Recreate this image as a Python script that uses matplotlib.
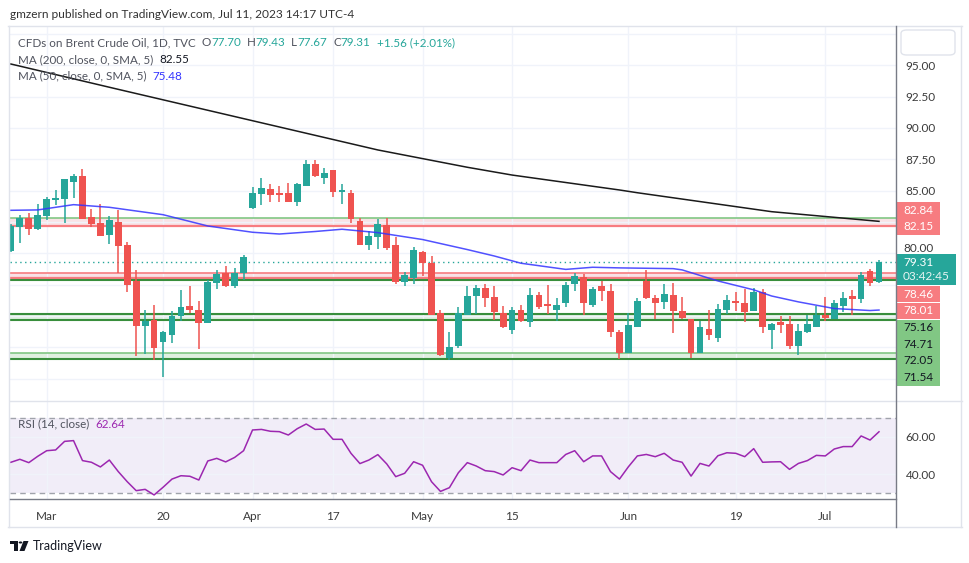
import numpy as np
import pandas as pd
import matplotlib
matplotlib.use('Agg')
import matplotlib.pyplot as plt
from matplotlib.patches import Rectangle, FancyBboxPatch, Circle, Polygon
from matplotlib.lines import Line2D

plt.rcParams['font.family'] = ['Lato', 'DejaVu Sans']

# dias de pregao no grafico (sexta-feira santa 7/abr sem barra)
dias = pd.bdate_range('2023-02-23', '2023-07-11')
dias = dias[dias != pd.Timestamp('2023-04-07')]

abertura = [80.22, 82.10, 82.79, 81.97, 83.00, 84.28, 84.33, 85.68, 86.16, 82.90,
            82.42, 81.47, 82.50, 80.67, 77.80, 74.24, 74.70, 72.97, 73.50, 75.02,
            75.81, 75.49, 74.48, 77.67, 78.41, 77.40, 78.41, 83.62, 84.73, 85.13,
            84.81, 84.81, 84.09, 85.37, 87.12, 86.00, 86.64, 84.89, 84.81, 82.58,
            80.67, 81.31, 82.26, 80.67, 77.72, 78.04, 80.11, 79.23, 75.26, 71.62,
            72.58, 75.10, 76.61, 77.25, 76.53, 75.26, 73.90, 75.49, 74.54, 76.69,
            75.97, 75.49, 76.05, 77.56, 78.12, 75.89, 77.40, 77.01, 73.74, 72.07,
            74.14, 77.80, 76.45, 76.13, 76.69, 75.42, 74.78, 72.02, 73.98, 73.26,
            75.49, 76.21, 76.05, 75.42, 76.93, 73.90, 74.54, 74.38, 72.63, 73.74,
            74.14, 75.10, 74.78, 75.81, 76.61, 76.37, 78.60, 77.70]
maxima = [82.35, 83.06, 83.22, 83.93, 84.52, 85.05, 85.95, 86.32, 86.72, 83.53,
          83.93, 82.98, 83.46, 80.91, 78.68, 75.49, 75.89, 73.82, 75.42, 77.08,
          77.40, 76.21, 77.88, 78.68, 78.99, 78.84, 79.87, 85.26, 86.00, 85.53,
          85.37, 85.61, 85.61, 87.44, 87.44, 86.80, 86.64, 85.53, 85.05, 82.82,
          81.78, 82.74, 82.82, 81.31, 78.52, 80.51, 80.19, 79.79, 75.49, 73.74,
          75.73, 77.40, 77.48, 77.56, 77.40, 75.81, 75.73, 75.89, 77.25, 76.93,
          77.48, 76.45, 77.72, 78.44, 78.36, 77.32, 77.80, 77.56, 73.90, 75.23,
          76.45, 78.68, 76.69, 77.56, 77.64, 76.53, 74.78, 74.62, 75.49, 75.97,
          76.69, 76.93, 77.17, 77.25, 77.17, 74.46, 75.02, 75.02, 74.38, 75.10,
          75.81, 76.53, 76.29, 76.93, 77.09, 78.52, 78.76, 79.43]
minima = [80.10, 80.86, 81.49, 81.86, 82.66, 83.85, 82.45, 84.44, 82.70, 82.13,
          81.35, 80.75, 78.41, 76.95, 71.78, 71.94, 71.46, 70.18, 72.89, 74.64,
          75.23, 72.39, 74.48, 77.19, 77.35, 77.27, 77.88, 83.54, 83.85, 84.09,
          84.09, 84.09, 83.77, 85.37, 86.08, 85.53, 84.49, 83.93, 82.45, 80.67,
          80.27, 80.35, 80.27, 77.56, 77.40, 77.56, 78.20, 75.10, 71.78, 71.51,
          72.49, 75.10, 75.20, 75.73, 74.72, 74.06, 73.58, 74.54, 74.14, 75.57,
          75.20, 74.62, 75.73, 77.01, 75.10, 75.73, 76.21, 73.34, 71.59, 72.07,
          74.14, 76.37, 74.78, 75.57, 73.66, 74.78, 71.67, 72.02, 73.11, 72.95,
          75.18, 75.42, 74.54, 75.42, 73.66, 72.39, 73.66, 72.39, 71.91, 73.66,
          74.14, 74.62, 74.78, 75.34, 75.10, 76.05, 77.40, 77.67]
fechamento = [82.18, 82.79, 81.97, 83.06, 84.33, 84.41, 85.92, 86.16, 82.74, 82.34,
              81.38, 82.66, 80.59, 77.49, 74.24, 74.62, 72.49, 73.74, 75.02, 75.73,
              75.49, 74.48, 77.72, 78.36, 77.40, 78.41, 79.71, 84.81, 85.21, 84.65,
              84.65, 84.09, 85.53, 87.12, 86.16, 86.40, 84.89, 85.05, 82.74, 80.67,
              81.38, 82.34, 80.43, 77.72, 78.28, 80.27, 79.23, 75.10, 71.86, 72.55,
              75.26, 76.61, 77.25, 76.45, 75.34, 74.14, 75.49, 74.62, 76.69, 75.73,
              75.81, 75.89, 77.48, 78.20, 76.05, 77.17, 77.01, 73.74, 72.07, 74.30,
              76.21, 76.45, 76.05, 76.77, 75.42, 74.86, 72.02, 74.14, 73.50, 75.57,
              76.29, 76.05, 75.34, 76.93, 74.14, 74.38, 74.30, 72.63, 73.82, 74.38,
              75.10, 74.86, 76.05, 76.45, 76.37, 78.28, 77.64, 79.31]

# medias moveis (data, valor)
ma200_datas = ['2023-02-23', '2023-03-13', '2023-04-03', '2023-04-24', '2023-05-08',
               '2023-05-15', '2023-05-31', '2023-06-02', '2023-06-23', '2023-07-11']
ma200_vals = [95.09, 93.07, 90.57, 88.24, 86.86, 86.24, 85.05, 84.83, 83.32, 82.55]
ma50_datas = ['2023-02-23', '2023-02-28', '2023-03-06', '2023-03-10', '2023-03-20',
              '2023-03-27', '2023-04-03', '2023-04-06', '2023-04-13', '2023-04-18',
              '2023-04-24', '2023-05-01', '2023-05-08', '2023-05-11', '2023-05-16',
              '2023-05-23', '2023-05-26', '2023-05-31', '2023-06-08', '2023-06-09',
              '2023-06-15', '2023-06-21', '2023-06-23', '2023-06-28', '2023-07-04',
              '2023-07-10', '2023-07-11']
ma50_vals = [83.43, 83.46, 83.88, 83.67, 83.08, 82.18, 81.68, 81.54, 81.74, 81.92,
             81.65, 81.10, 80.30, 79.79, 79.21, 78.72, 78.89, 78.84, 78.78, 78.68,
             77.80, 77.09, 76.60, 76.13, 75.60, 75.44, 75.48]

rsi = [46.3, 47.9, 46.1, 49.5, 52.5, 52.9, 57.5, 57.9, 47.2, 46.3,
       43.8, 47.5, 41.3, 35.9, 31.1, 31.8, 28.8, 32.9, 37.3, 39.1,
       38.8, 36.8, 47.0, 48.4, 46.5, 48.9, 52.5, 63.6, 63.9, 62.9,
       62.7, 60.9, 64.3, 66.8, 63.9, 64.1, 58.6, 58.6, 51.1, 45.6,
       47.5, 50.4, 45.4, 38.6, 40.4, 46.6, 44.7, 35.9, 30.7, 32.7,
       40.7, 46.1, 44.3, 41.8, 41.3, 39.5, 43.4, 41.8, 47.5, 46.1,
       46.1, 46.1, 50.5, 52.5, 46.6, 49.7, 49.7, 41.3, 37.3, 43.9,
       49.7, 50.5, 49.3, 51.1, 47.5, 46.3, 38.9, 45.7, 44.3, 49.8,
       51.4, 51.1, 49.3, 53.6, 46.3, 46.5, 46.6, 42.5, 45.7, 47.2,
       50.0, 49.7, 53.4, 54.7, 54.7, 60.4, 58.2, 62.64]

# zonas de suporte / resistencia
zonas_vermelhas = [(82.15, 82.84), (78.01, 78.46)]
zonas_verdes = [(74.71, 75.16), (71.54, 72.05)]

rotulos_datas = ['2023-03-01', '2023-03-20', '2023-04-03', '2023-04-17', '2023-05-01',
                 '2023-05-15', '2023-06-01', '2023-06-19', '2023-07-03']
rotulos = ['Mar', '20', 'Apr', '17', 'May', '15', 'Jun', '19', 'Jul']

VERDE = '#26A69A'
VERMELHO = '#EF5350'
GRADE = '#F0F3FA'
TEXTO = '#131722'
CINZA = '#50535E'

W, H = 970, 563
def fx(px):
    return px / W
def fy(py):
    return 1 - py / H

def idx(datas):
    return [dias.get_loc(pd.Timestamp(d)) for d in datas]

fig = plt.figure(figsize=(9.7, 5.63), dpi=100)
fig.patch.set_facecolor('white')

ax = fig.add_axes([fx(10), fy(401), (896 - 10) / W, (401 - 27) / H])
ax2 = fig.add_axes([fx(10), fy(499), (896 - 10) / W, (499 - 401) / H], sharex=ax)

x = np.arange(len(dias))
o = np.array(abertura)
c = np.array(fechamento)
alta = c >= o
cores = np.where(alta, VERDE, VERMELHO)

ax.set_xlim(-0.1, 98.9)
ax.set_ylim(68.23, 98.04)

# zonas
for lo, hi in zonas_vermelhas:
    ax.axhspan(lo, hi, color='#F7D9DE', alpha=0.75, lw=0, zorder=1)
    ax.axhline(lo, color='#F77C80', lw=1.6, zorder=2)
ax.axhline(zonas_vermelhas[0][1], color='#81C784', lw=1.2, zorder=2)
ax.axhline(zonas_vermelhas[1][1], color='#F77C80', lw=1.2, zorder=2)
ax.axhline(zonas_vermelhas[1][0] - 0.12, color='#388E3C', lw=1.5, zorder=2)
for lo, hi in zonas_verdes:
    ax.axhspan(lo, hi, color='#DCEFDD', alpha=0.9, lw=0, zorder=1)
    ax.axhline(lo, color='#388E3C', lw=1.5, zorder=2)
ax.axhline(zonas_verdes[0][1], color='#388E3C', lw=1.5, zorder=2)
ax.axhline(zonas_verdes[1][1], color='#81C784', lw=1.2, zorder=2)

# ultimo preco
ax.axhline(fechamento[-1], color=VERDE, lw=1, ls=(0, (1, 2.5)), zorder=2)

# candles
ax.vlines(x, minima, maxima, colors=cores, lw=1.1, zorder=3)
corpo = np.maximum(np.abs(c - o), 0.1)
ax.bar(x, corpo, bottom=np.minimum(o, c), width=0.76, color=cores, lw=0, zorder=4)

# medias
ax.plot(idx(ma200_datas), ma200_vals, color='#1a1a1a', lw=1.1, zorder=5)
ax.plot(idx(ma50_datas), ma50_vals, color='#3333FF', lw=1.1, alpha=0.85, zorder=5)

# escala de precos: so as marcas que nao ficam sob as etiquetas
niveis = np.arange(70, 98, 2.5)
visiveis = [85.0, 87.5, 90.0, 92.5, 95.0]
ax.set_xticks(idx(rotulos_datas))
ax.set_yticks(niveis)
ax.set_yticklabels(['%.2f' % v if v in visiveis else '' for v in niveis])
ax.yaxis.tick_right()
ax.tick_params(axis='y', length=0, pad=7, labelsize=8.5, labelcolor='#3b3b3b')
ax.tick_params(axis='x', length=0, labelbottom=False)
ax.grid(True, color=GRADE, lw=1, zorder=0)
for s in ax.spines.values():
    s.set_visible(False)

# 80.00 fica logo acima da etiqueta do ultimo preco
fig.text(fx(903), fy(253.5), '80.00', fontsize=8.5, color='#3b3b3b', va='bottom', ha='left')

# RSI
ax2.set_ylim(26.63, 79.12)
ax2.axhspan(30, 70, color='#7E57C2', alpha=0.1, lw=0, zorder=1)
ax2.axhline(70, color='#A0A3AB', lw=1, ls=(0, (4, 3)), zorder=2)
ax2.axhline(30, color='#A0A3AB', lw=1, ls=(0, (4, 3)), zorder=2)
ax2.plot(x, rsi, color='#9C27B0', lw=1.1, zorder=4)
ax2.set_yticks([40, 60])
ax2.set_yticklabels(['40.00', '60.00'])
ax2.yaxis.tick_right()
ax2.tick_params(axis='y', length=0, pad=7, labelsize=8.5, labelcolor='#3b3b3b')
ax2.set_xticks(idx(rotulos_datas))
ax2.set_xticklabels(rotulos)
ax2.tick_params(axis='x', length=0, pad=9, labelsize=8.5, labelcolor='#3b3b3b')
ax2.grid(True, color=GRADE, lw=1, zorder=0)
for s in ax2.spines.values():
    s.set_visible(False)

# molduras
for (x0, y0, x1, y1, cor) in [(8, 26, 962, 26, '#E0E3EB'), (8, 527, 962, 527, '#E0E3EB'),
                              (9, 26, 9, 527, '#E0E3EB'), (961, 26, 961, 527, '#E0E3EB'),
                              (10, 401, 962, 401, '#E0E3EB'), (10, 499, 896, 499, '#787B86'),
                              (896.5, 26, 896.5, 527, '#787B86')]:
    fig.add_artist(Line2D([fx(x0), fx(x1)], [fy(y0), fy(y1)], color=cor, lw=1))

# caixa no canto superior direito
fig.add_artist(FancyBboxPatch((fx(901), fy(55)), (955 - 901) / W, 25 / H,
                              boxstyle='round,pad=0,rounding_size=0.006',
                              fc='white', ec='#E0E3EB', lw=1))

# etiquetas de preco no eixo
etiquetas = [('82.84', 210.0, '#F77C80', 'white', 43), ('82.15', 226.7, '#F77C80', 'white', 43),
             ('79.31', 262.0, VERDE, 'white', 59), ('03:42:45', 277.0, VERDE, '#E6F4F2', 59),
             ('78.46', 294.0, '#F77C80', 'white', 43), ('78.01', 311.0, '#F77C80', 'white', 43),
             ('75.16', 327.8, '#81C784', TEXTO, 43), ('74.71', 344.3, '#81C784', TEXTO, 43),
             ('72.05', 360.8, '#81C784', TEXTO, 43), ('71.54', 377.3, '#81C784', TEXTO, 43)]
alt = 16.6
for txt, yc, fc, tc, larg in etiquetas:
    fig.add_artist(Rectangle((fx(897), fy(yc + alt / 2)), larg / W, alt / H,
                             fc=fc, ec='none', lw=0))
    fig.text(fx(903), fy(yc), txt, color=tc, fontsize=8.5, va='center', ha='left')

# textos
fig.text(fx(10), fy(15), 'gmzern published on TradingView.com, Jul 11, 2023 14:17 UTC-4',
         fontsize=8.6, color='#333333', va='center')

r = fig.canvas.get_renderer()
def linha_texto(x0, yc, pedacos, tam=8.4):
    px = x0
    for txt, cor, gap in pedacos:
        t = fig.text(fx(px), fy(yc), txt, color=cor, fontsize=tam, va='center', ha='left')
        bb = t.get_window_extent(renderer=r)
        px = bb.x1 + gap

linha_texto(18, 43, [('CFDs on Brent Crude Oil, 1D, TVC', CINZA, 6),
                     ('O', CINZA, 0), ('77.70', VERDE, 6),
                     ('H', CINZA, 0), ('79.43', VERDE, 6),
                     ('L', CINZA, 0), ('77.67', VERDE, 6),
                     ('C', CINZA, 0), ('79.31', VERDE, 6),
                     ('+1.56 (+2.01%)', VERDE, 0)])
linha_texto(18, 59.5, [('MA (200, close, 0, SMA, 5)', CINZA, 6), ('82.55', TEXTO, 0)])
linha_texto(18, 76, [('MA (50, close, 0, SMA, 5)', CINZA, 6), ('75.48', '#3333FF', 0)])
linha_texto(18, 424, [('RSI (14, close)', CINZA, 6), ('62.64', '#9C27B0', 0)])

# logo TradingView
fig.add_artist(Rectangle((fx(10), fy(544)), 8 / W, 3.5 / H, fc=TEXTO, ec='none'))
fig.add_artist(Rectangle((fx(13.5), fy(551)), 4 / W, 10 / H, fc=TEXTO, ec='none'))
fig.add_artist(Circle((fx(20.5), fy(542.5)), 1.8 / W, fc=TEXTO, ec='none'))
fig.add_artist(Polygon([(fx(23.5), fy(541)), (fx(28.5), fy(541)),
                        (fx(24.5), fy(551)), (fx(19.5), fy(551))], fc=TEXTO, ec='none'))
fig.text(fx(33), fy(546), 'TradingView', fontsize=9, color=TEXTO, va='center')

fig.savefig('out.png', dpi=100)
